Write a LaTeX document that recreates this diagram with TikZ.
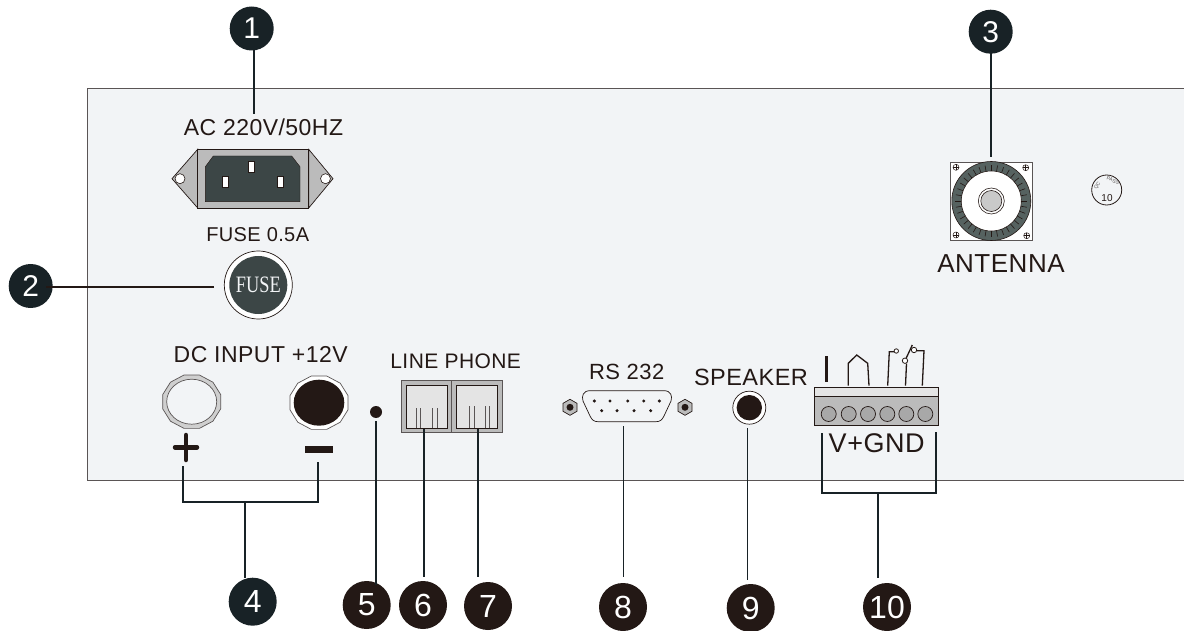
\documentclass[tikz,border=0pt]{standalone}
\usepackage{fontspec}
\setmainfont{Liberation Sans}
\newfontfamily\fuseface{Liberation Serif}
\usepackage{xcolor}
\usepackage{tikz}
\usetikzlibrary{shapes.geometric, positioning, calc}
\definecolor{panelfill}{RGB}{242,244,246}
\definecolor{paneledge}{RGB}{90,85,85}
\definecolor{inkdark}{RGB}{35,24,21}
\definecolor{inkblue}{RGB}{24,34,38}
\definecolor{partdark}{RGB}{60,70,70}
\definecolor{ringgray}{RGB}{86,98,96}
\definecolor{partgray}{RGB}{187,187,187}
\definecolor{partlight}{RGB}{228,228,228}
\tikzset{
  num/.style={circle, fill=inkdark, text=white, minimum size=48pt, inner sep=0pt,
    font=\fontsize{32}{32}\selectfont},
  numb/.style={num, fill=inkblue, minimum size=44pt, font=\fontsize{30}{30}\selectfont},
  lbl/.style={inner sep=0pt, text=inkdark, font=\fontsize{#1}{#1}\selectfont\addfontfeature{LetterSpace=2}},
  lead/.style={draw=inkblue, line width=2pt},
  part/.style={draw=inkdark, line width=0.7pt, fill=partgray},
  pinhole/.style={draw=inkdark, line width=0.6pt, fill=white},
  wire/.style={draw=inkdark, line width=1.3pt}
}
\begin{document}
\begin{tikzpicture}[x=1pt, y=-1pt]
  \useasboundingbox (0,0) rectangle (1184,631);
  % panel
  \draw[draw=paneledge, line width=1pt, fill=panelfill] (1185,88.5) -- (87,88.5) -- (87,480.5) -- (1185,480.5);

  % mains inlet
  \draw[part] (197.7,149.3) -- (172,178.7) -- (197.7,208) -- cycle;
  \draw[part] (308.7,149.3) -- (333,178.7) -- (308.7,208) -- cycle;
  \draw[part] (197.7,149.3) rectangle (308.7,208);
  \draw[pinhole] (180,178.7) circle (5);
  \draw[pinhole] (325.5,178.7) circle (5);
  \draw[draw=inkdark, fill=partdark] (205.3,166.7) -- (213.3,156) -- (291.7,156) -- (300,166.7) -- (300,201.7) -- (205.3,201.7) -- cycle;
  \draw[pinhole] (248.7,161.8) rectangle (254.7,172.8);
  \draw[pinhole] (222.7,176.2) rectangle (228.7,187.2);
  \draw[pinhole] (277.7,176.2) rectangle (283.7,187.2);

  % fuse holder
  \draw[draw=inkdark, line width=0.7pt, fill=white] (258.3,285) circle (34);
  \node[circle, fill=partdark, minimum size=58pt, inner sep=0pt, text=panelfill,
    font=\fontsize{23.5}{23.5}\fuseface] (fusecap) at (258.3,285) {\scalebox{0.78}[1]{FUSE}};

  % antenna socket
  \draw[draw=paneledge, line width=1pt, fill=white] (950.7,162.3) rectangle (1032,241);
  \draw[draw=inkdark, line width=0.6pt, fill=ringgray] (991.3,201) circle (39.5);
  \draw[draw=inkdark, line width=0.6pt, fill=white] (991.3,201) circle (30);
  \foreach \a in {0,10,...,350}
    \draw[inkdark, line width=0.6pt] ($(991.3,201)+(\a:30)$) -- ($(991.3,201)+(\a:36)$);
  \draw[draw=inkdark, line width=0.6pt, fill=white] (991.3,201) circle (13);
  \draw[draw=inkdark, line width=0.6pt, fill=partgray!80] (991.3,201) circle (10.5);
  \foreach \x/\y in {956/167.3, 1025.7/167.7, 956/235, 1026.7/235.7} {
    \draw[draw=inkdark, line width=0.5pt, fill=white] (\x,\y) circle (3);
    \draw[inkdark, line width=0.5pt] (\x-3,\y) -- (\x+3,\y) (\x,\y-3) -- (\x,\y+3);
  }

  % pass sticker
  \draw[draw=inkdark, line width=0.8pt, fill=panelfill] (1106.7,190) circle (15);
  \node[inner sep=0pt, text=paneledge, rotate=55, font=\fontsize{5}{5}\selectfont] (qcmark) at (1097.5,186) {QC};
  \node[inner sep=0pt, text=paneledge, rotate=-20, font=\fontsize{5}{5}\selectfont] (passmark) at (1113,180.5) {PASS};
  \node[inner sep=0pt, text=inkdark, font=\fontsize{10}{10}\selectfont] (tenmark) at (1107,198) {10};

  % dc terminals
  \node[regular polygon, regular polygon sides=12, draw=paneledge, line width=0.7pt, fill=partgray!70,
    minimum size=60pt, inner sep=0pt, yscale=0.92, transform shape] (plusnut) at (191.7,401.7) {};
  \draw[draw=paneledge, line width=0.7pt, fill=panelfill] (191.7,401.7) ellipse (25 and 22.5);
  \node[regular polygon, regular polygon sides=12, draw=paneledge, line width=0.7pt, fill=white,
    minimum size=60pt, inner sep=0pt, yscale=0.92, transform shape] (minusnut) at (319,402.7) {};
  \fill[inkdark] (319,402.7) ellipse (25.3 and 23);
  \draw[inkdark, line width=4.5pt, line cap=round] (175,447.3) -- (197,447.3) (186,435) -- (186,460);
  \fill[inkdark] (305,446) rectangle (332.7,453.3);
  \node[circle, fill=inkdark, minimum size=12pt, inner sep=0pt] (resetdot) at (376,412) {};

  % phone jacks
  \draw[part, draw=paneledge] (401,380) rectangle (502.7,432);
  \draw[paneledge, line width=0.7pt] (451.3,380) -- (451.3,432);
  \draw[draw=inkdark, line width=0.7pt, fill=partlight] (406,385.3) rectangle (447.3,428);
  \draw[draw=inkdark, line width=0.7pt, fill=partlight] (456,385.3) rectangle (497.3,428);
  \foreach \x in {416.3,420,432.3,437.3}
    \draw[paneledge, line width=0.7pt] (\x,408) -- (\x,428);
  \foreach \x in {469.7,474.3,485,489.3}
    \draw[paneledge, line width=0.7pt] (\x,406) -- (\x,428);

  % rs232 connector
  \draw[draw=inkdark, line width=0.7pt, fill=panelfill] (590,390.7) -- (664,390.7) .. controls (671,390.7) and (672.5,396) .. (671,401) -- (664,416) .. controls (662,420) and (660,421.7) .. (656,421.7) -- (598,421.7) .. controls (594,421.7) and (592,420) .. (590,416) -- (583,401) .. controls (581.5,396) and (583,390.7) .. (590,390.7) -- cycle;
  \foreach \x in {594.3,610,627.7,643.7,659.3}
    \fill[inkdark] (\x,401) circle (1.7);
  \foreach \x in {601.7,617,634,650.7}
    \fill[inkdark] (\x,410.7) circle (1.7);
  \foreach \x in {570,685} {
    \draw[part] (\x,399.3) -- (\x+7,403.3) -- (\x+7,411.3) -- (\x,415.3) -- (\x-7,411.3) -- (\x-7,403.3) -- cycle;
    \fill[inkdark] (\x,407.3) circle (3.5);
  }

  % speaker jack
  \draw[draw=inkdark, line width=0.7pt, fill=white] (749.3,407.7) circle (16.5);
  \fill[inkdark] (749.3,407.7) circle (12.7);

  % terminal block
  \draw[draw=inkdark, line width=0.7pt, fill=partlight] (814.3,387.3) rectangle (938.7,396.7);
  \draw[part] (814.3,396.7) rectangle (938.7,425.7);
  \foreach \x in {828.7,848.7,868,887.3,906.3,925.3}
    \draw[part, fill=partgray!90!black] (\x,414) circle (7.5);
  \draw[inkdark, line width=3pt] (826.3,356) -- (826.3,381.7);
  \draw[wire] (848.3,385.7) -- (848.3,363.3) -- (856.7,355) -- (867.7,363.3) -- (869,385.7);
  \draw[wire] (887.7,385.7) -- (889.3,351.7) -- (894,351.7);
  \draw[wire, line width=0.8pt, fill=white] (896.3,351) circle (2.2);
  \draw[wire] (905.5,385.7) -- (906.5,363.5);
  \draw[wire] (905,360.7) -- (912.3,345);
  \draw[wire, line width=0.8pt, fill=white] (905,360.7) circle (2.7);
  \draw[wire, line width=0.8pt, fill=white] (914,350) circle (2.7);
  \draw[wire] (916.7,350.7) -- (924,350.7) -- (922.3,385.7);

  % labels
  \node[lbl=23] (aclabel) at (263.5,127) {AC 220V/50HZ};
  \node[lbl=20] (fuselabel) at (257.7,235) {FUSE 0.5A};
  \node[lbl=26] (antlabel) at (1001,264) {ANTENNA};
  \node[lbl=23] (dclabel) at (260.7,355) {DC INPUT +12V};
  \node[lbl=21] (linelabel) at (455.7,361.7) {LINE PHONE};
  \node[lbl=22] (rslabel) at (626.7,372) {RS 232};
  \node[lbl=23.5] (spklabel) at (751,377.7) {SPEAKER};
  \node[lbl=27] (vlabel) at (876.7,443) {V+GND};

  % numbers
  \node[numb] (n1) at (251.7,28.5) {1};
  \node[numb] (n2) at (30.7,286) {2};
  \node[numb] (n3) at (990.7,31.7) {3};
  \node[num, fill=inkblue] (n4) at (252.7,601.7) {4};
  \node[num] (n5) at (366.7,605) {5};
  \node[num] (n6) at (423,605) {6};
  \node[num] (n7) at (488,606) {7};
  \node[num] (n8) at (623,607) {8};
  \node[num] (n9) at (750.7,608) {9};
  \node[num] (n10) at (887,607) {10};

  % leaders
  \coordinate (a1) at (253.7,114);
  \coordinate (b1) at (253.7,45);
  \coordinate (a2) at (214,286.7);
  \coordinate (b2) at (46,286.7);
  \coordinate (a3) at (991,157);
  \coordinate (b3) at (991,50);
  \coordinate (a4l) at (183,466);
  \coordinate (a4r) at (318,462);
  \coordinate (j4) at (245,502);
  \coordinate (b4) at (245,578);
  \coordinate (a5) at (375.7,421);
  \coordinate (b5) at (375.7,585);
  \coordinate (a6) at (424,429);
  \coordinate (b6) at (424,577);
  \coordinate (a7) at (478,429);
  \coordinate (b7) at (478,577);
  \coordinate (a8) at (623.7,426);
  \coordinate (b8) at (623.7,577);
  \coordinate (a9) at (747.7,428);
  \coordinate (b9) at (747.7,580);
  \coordinate (a10l) at (822,433);
  \coordinate (a10r) at (936,432);
  \coordinate (j10) at (877.7,493);
  \coordinate (b10) at (877.7,578);
  \draw[lead] (a1) -- (b1);
  \draw[lead, draw=inkdark] (a2) -- (b2);
  \draw[lead] (a3) -- (b3);
  \draw[lead] (a4l) |- (j4) -| (a4r);
  \draw[lead] (j4) -- (b4);
  \draw[lead, line width=2.4pt] (a5) -- (b5);
  \draw[lead] (a6) -- (b6);
  \draw[lead] (a7) -- (b7);
  \draw[lead, line width=1.5pt] (a8) -- (b8);
  \draw[lead, line width=1.5pt] (a9) -- (b9);
  \draw[lead] (a10l) |- (j10) -| (a10r);
  \draw[lead] (j10) -- (b10);
\end{tikzpicture}
\end{document}
